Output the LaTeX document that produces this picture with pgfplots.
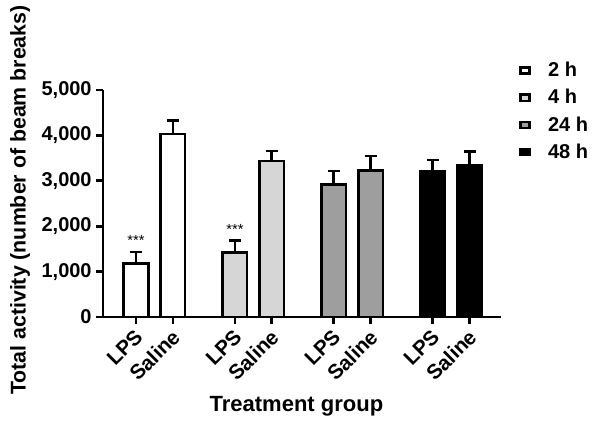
\documentclass[border=0pt]{standalone}
\usepackage{fontspec}
\setmainfont{Liberation Sans}
\usepackage{pgfplots}
\pgfplotsset{compat=1.18}
\usepackage{pgfplotstable}

\definecolor{c2h}{RGB}{255,255,255}
\definecolor{c4h}{RGB}{214,214,214}
\definecolor{c24h}{RGB}{158,158,158}
\definecolor{c48h}{RGB}{0,0,0}

% x: bar position, y: mean, e: SEM (upper only)
\pgfplotstableread{
x y e
0 1175 255
1 4033 300
}\twoh
\pgfplotstableread{
x y e
2.68 1422 263
3.68 3435 219
}\fourh
\pgfplotstableread{
x y e
5.36 2925 292
6.36 3231 314
}\twentyfourh
\pgfplotstableread{
x y e
8.04 3202 255
9.04 3348 291
}\fortyeighth

\pgfplotsset{
  grbar/.style={fill=#1, draw=black, line width=2pt,
    error bars/.cd, y dir=plus, y explicit,
    error bar style={line width=2pt, black},
    error mark options={rotate=90, mark size=4.5pt, line width=2pt, black}},
}

\begin{document}
\begin{tikzpicture}
\path (-77.25pt,-81pt) rectangle (375pt,237.75pt);
\begin{axis}[
    scale only axis, width=298.5pt, height=170.25pt,
    ybar, bar width=0.66, bar shift=0pt,
    xmin=-0.894, xmax=9.89, ymin=0, ymax=5000,
    axis lines=left, axis line style={line width=2.2pt, -},
    xtick={0,1,2.68,3.68,5.36,6.36,8.04,9.04},
    xticklabels={LPS,Saline,LPS,Saline,LPS,Saline,LPS,Saline},
    ytick={0,1000,2000,3000,4000,5000},
    tick align=outside, major tick length=5pt,
    tick style={line width=2pt, black},
    /pgf/number format/assume math mode=true,
    /pgf/number format/1000 sep={,},
    yticklabel style={font=\fontsize{15}{18}\selectfont\bfseries},
    xticklabel style={font=\fontsize{15.5}{18}\selectfont\bfseries, rotate=45, anchor=north east, inner sep=1pt, xshift=-2.5pt},
    xlabel={Treatment group},
    ylabel={Total activity (number of beam breaks)},
    xlabel style={font=\fontsize{16.5}{19}\selectfont\bfseries, at={(rel axis cs:0.486,-0.418)}, anchor=base},
    ylabel style={font=\fontsize{16}{19}\selectfont\bfseries, at={(rel axis cs:-0.2085,0.515)}, anchor=center},
    clip=false,
    legend style={draw=none, fill=none, at={(rel axis cs:1.045,1.135)}, anchor=north west,
      font=\fontsize{15}{17}\selectfont\bfseries, row sep=4pt, column sep=11pt, inner sep=0pt},
    legend image code/.code={\draw[fill=#1, draw=black, line width=1.8pt] (0pt,-2.3pt) rectangle (6.9pt,2.3pt);},
    legend cell align=left,
]
\addplot[grbar=c2h] table[x=x, y=y, y error=e] {\twoh};
\addlegendentry{2 h}
\addplot[grbar=c4h] table[x=x, y=y, y error=e] {\fourh};
\addlegendentry{4 h}
\addplot[grbar=c24h] table[x=x, y=y, y error=e] {\twentyfourh};
\addlegendentry{24 h}
\addplot[grbar=c48h] table[x=x, y=y, y error=e] {\fortyeighth};
\addlegendentry{48 h}
\node[font=\fontsize{11}{12}\selectfont, anchor=center] at (axis cs:0,1680) {***};
\node[font=\fontsize{11}{12}\selectfont, anchor=center] at (axis cs:2.68,1920) {***};
\end{axis}
\end{tikzpicture}
\end{document}
